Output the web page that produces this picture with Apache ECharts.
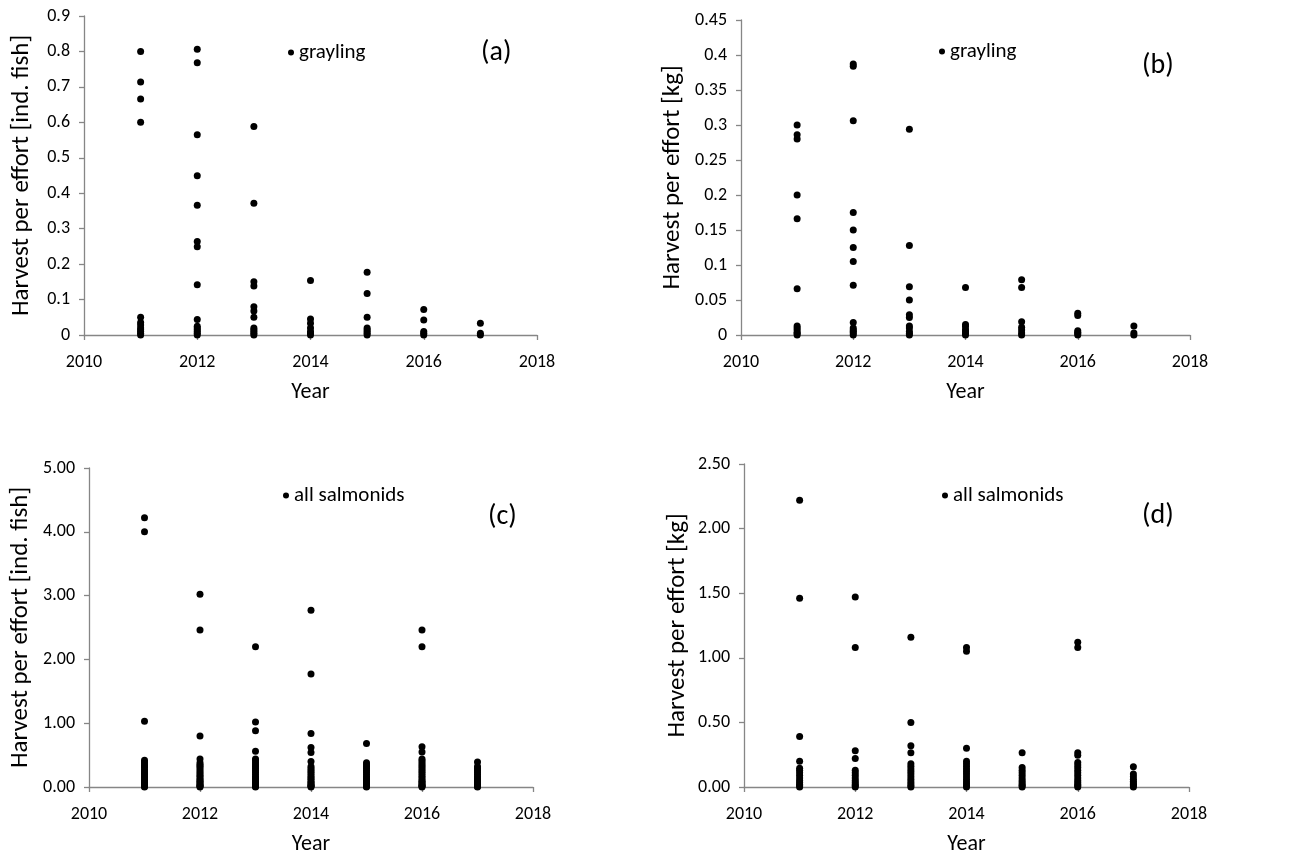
<!DOCTYPE html>
<html>
<head>
<meta charset="utf-8">
<script src="https://cdn.jsdelivr.net/npm/echarts@6/dist/echarts.min.js"></script>
<style>html,body{margin:0;padding:0;background:#fff;}#c{width:1296px;height:856px;}</style>
</head>
<body>
<div id="c"></div>
<script>
const years = [2011, 2012, 2013, 2014, 2015, 2016, 2017];

// (a) grayling, harvest per effort [ind. fish]
const grayInd = [
  [0.80, 0.714, 0.666, 0.60, 0.05, 0.035, 0.028, 0.02, 0.015, 0.01, 0.005, 0],
  [0.806, 0.768, 0.565, 0.449, 0.366, 0.264, 0.249, 0.142, 0.044, 0.025, 0.02, 0.015, 0.01, 0.005, 0],
  [0.588, 0.372, 0.150, 0.138, 0.080, 0.068, 0.05, 0.02, 0.015, 0.01, 0.005, 0],
  [0.154, 0.045, 0.033, 0.02, 0.01, 0.005, 0],
  [0.177, 0.117, 0.05, 0.02, 0.015, 0.01, 0.005, 0],
  [0.072, 0.042, 0.01, 0.005, 0],
  [0.033, 0.005, 0]
];
// (b) grayling, harvest per effort [kg]
const grayKg = [
  [0.300, 0.286, 0.280, 0.200, 0.166, 0.066, 0.013, 0.01, 0.007, 0.004, 0.002, 0],
  [0.387, 0.384, 0.306, 0.175, 0.150, 0.125, 0.105, 0.071, 0.018, 0.01, 0.007, 0.005, 0.003, 0],
  [0.294, 0.128, 0.069, 0.050, 0.029, 0.025, 0.013, 0.01, 0.005, 0.002, 0],
  [0.068, 0.015, 0.012, 0.008, 0.005, 0.002, 0],
  [0.079, 0.068, 0.019, 0.011, 0.007, 0.003, 0],
  [0.031, 0.028, 0.006, 0.004, 0.002, 0],
  [0.013, 0.003, 0]
];
// (c) all salmonids, harvest per effort [ind. fish]
const salmInd = [
  [4.22, 4.00, 1.03, 0.42, 0.39, 0.36, 0.33, 0.31, 0.28, 0.25, 0.22, 0.20, 0.17, 0.15, 0.12, 0.10, 0.08, 0.06, 0.04, 0.03, 0.02, 0.01, 0],
  [3.02, 2.46, 0.80, 0.44, 0.38, 0.35, 0.33, 0.30, 0.27, 0.24, 0.21, 0.18, 0.16, 0.13, 0.11, 0.09, 0.07, 0.05, 0.03, 0.02, 0.01, 0],
  [2.20, 1.02, 0.88, 0.56, 0.44, 0.41, 0.38, 0.35, 0.32, 0.29, 0.26, 0.23, 0.20, 0.17, 0.14, 0.12, 0.09, 0.07, 0.05, 0.03, 0.02, 0.01, 0],
  [2.77, 1.77, 0.84, 0.62, 0.54, 0.40, 0.32, 0.29, 0.26, 0.23, 0.20, 0.17, 0.14, 0.12, 0.09, 0.07, 0.05, 0.03, 0.02, 0.01, 0],
  [0.68, 0.38, 0.35, 0.32, 0.29, 0.26, 0.23, 0.20, 0.17, 0.14, 0.11, 0.09, 0.07, 0.05, 0.03, 0.02, 0.01, 0],
  [2.46, 2.20, 0.63, 0.55, 0.44, 0.41, 0.38, 0.35, 0.32, 0.29, 0.26, 0.23, 0.20, 0.17, 0.14, 0.11, 0.09, 0.07, 0.05, 0.03, 0.02, 0.01, 0],
  [0.39, 0.32, 0.29, 0.26, 0.23, 0.20, 0.17, 0.14, 0.11, 0.09, 0.07, 0.05, 0.03, 0.02, 0.01, 0]
];
// (d) all salmonids, harvest per effort [kg]
const salmKg = [
  [2.22, 1.46, 0.39, 0.20, 0.145, 0.13, 0.11, 0.09, 0.07, 0.05, 0.035, 0.02, 0.01, 0],
  [1.47, 1.08, 0.28, 0.22, 0.13, 0.11, 0.09, 0.07, 0.05, 0.035, 0.02, 0.01, 0],
  [1.16, 0.50, 0.32, 0.265, 0.18, 0.16, 0.14, 0.12, 0.10, 0.08, 0.06, 0.04, 0.025, 0.01, 0],
  [1.08, 1.05, 0.30, 0.20, 0.18, 0.16, 0.14, 0.12, 0.10, 0.08, 0.06, 0.04, 0.025, 0.01, 0],
  [0.265, 0.15, 0.13, 0.11, 0.09, 0.07, 0.05, 0.035, 0.02, 0.01, 0],
  [1.12, 1.08, 0.265, 0.245, 0.19, 0.17, 0.15, 0.13, 0.11, 0.09, 0.07, 0.05, 0.035, 0.02, 0.01, 0],
  [0.157, 0.10, 0.08, 0.06, 0.045, 0.03, 0.02, 0.01, 0]
];

const yMax = [0.9, 0.45, 5, 2.5];
const yStep = [0.1, 0.05, 1, 0.5];
const yNames = ['Harvest per effort [ind. fish]', 'Harvest per effort [kg]', 'Harvest per effort [ind. fish]', 'Harvest per effort [kg]'];
const seriesNames = ['grayling', 'grayling', 'all salmonids', 'all salmonids'];
const panelLabels = ['(a)', '(b)', '(c)', '(d)'];
const xTicks = [2010, 2018, 2];

const FONT = 'Carlito, Lato, "Liberation Sans", sans-serif';
const AX = '#868686';

const grids = [
  {left: 84, top: 16, width: 453, height: 319},
  {left: 741, top: 20, width: 449, height: 315},
  {left: 89, top: 468, width: 444, height: 319},
  {left: 744, top: 464, width: 445, height: 323}
];
const yNameGap = [50, 56, 56, 54];
const xNameGap = [46, 46, 46, 46];
const legendPos = [{left: 288, top: 42}, {left: 939, top: 41}, {left: 283, top: 485}, {left: 942, top: 485}];
const labelPos = [{left: 481, top: 39}, {left: 1142, top: 52}, {left: 488, top: 503}, {left: 1142, top: 502}];

const allData = [grayInd, grayKg, salmInd, salmKg];

function toPoints(arr) {
  const pts = [];
  arr.forEach((vals, i) => vals.forEach(v => pts.push([years[i], v])));
  return pts;
}

const option = {
  animation: false,
  backgroundColor: '#fff',
  textStyle: {fontFamily: FONT},
  grid: grids.map(g => Object.assign({containLabel: false}, g)),
  xAxis: grids.map((g, i) => ({
    type: 'value', gridIndex: i, min: xTicks[0], max: xTicks[1], interval: xTicks[2],
    name: 'Year', nameLocation: 'middle', nameGap: xNameGap[i],
    nameTextStyle: {fontFamily: FONT, fontSize: 22, color: '#000'},
    axisLine: {show: true, lineStyle: {color: AX, width: 1.3}},
    axisTick: {show: true, length: 5, lineStyle: {color: AX, width: 1.3}},
    axisLabel: {fontFamily: FONT, fontSize: 18, color: '#000', margin: 18, formatter: v => String(v)},
    splitLine: {show: false}
  })),
  yAxis: grids.map((g, i) => ({
    type: 'value', gridIndex: i, min: 0, max: yMax[i], interval: yStep[i],
    name: yNames[i], nameLocation: 'middle', nameGap: yNameGap[i], nameRotate: 90,
    nameTextStyle: {fontFamily: FONT, fontSize: 25, color: '#000'},
    axisLine: {show: true, lineStyle: {color: AX, width: 1.3}},
    axisTick: {show: true, length: 5, lineStyle: {color: AX, width: 1.3}},
    axisLabel: {fontFamily: FONT, fontSize: 18, color: '#000', margin: 14,
      formatter: i >= 2 ? (v => v.toFixed(2)) : (v => String(+v.toFixed(2)))},
    splitLine: {show: false}
  })),
  legend: grids.map((g, i) => Object.assign({
    data: [seriesNames[i]], icon: 'circle', itemWidth: 6, itemHeight: 6, orient: 'horizontal',
    textStyle: {fontFamily: FONT, fontSize: 21, color: '#000'}, selectedMode: false, padding: 0
  }, legendPos[i])),
  graphic: panelLabels.map((t, i) => ({
    type: 'text', left: labelPos[i].left, top: labelPos[i].top,
    style: {text: t, font: '28px ' + FONT, fill: '#000'}
  })),
  series: allData.map((d, i) => ({
    type: 'scatter', name: seriesNames[i], xAxisIndex: i, yAxisIndex: i,
    symbol: 'circle', symbolSize: 7, itemStyle: {color: '#000', opacity: 1},
    data: toPoints(d)
  }))
};

const chart = echarts.init(document.getElementById('c'), null, {renderer: 'canvas'});
chart.setOption(option);
</script>
</body>
</html>
